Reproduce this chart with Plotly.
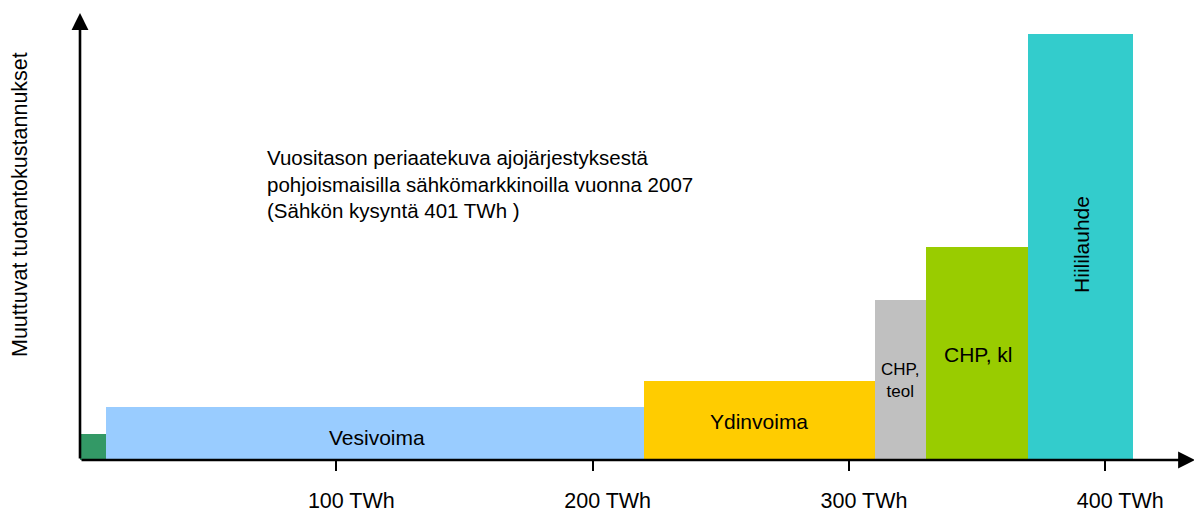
import plotly.graph_objects as go

# Data (TWh along x; relative variable cost in arbitrary units along y)
names = ["", "Vesivoima", "Ydinvoima", "CHP,<br>teol", "CHP, kl", "Hiililauhde"]
starts = [0, 10, 220, 310, 330, 370]
ends = [10, 220, 310, 330, 370, 411]
costs = [26, 53, 79, 160, 213, 426]
colors = ["#339966", "#99CCFF", "#FFCC00", "#C0C0C0", "#99CC00", "#33CCCC"]
tick_vals = [100, 200, 300, 400]
tick_text = ["100 TWh", "200 TWh", "300 TWh", "400 TWh"]
title_lines = ["Vuositason periaatekuva ajojärjestyksestä",
               "pohjoismaisilla sähkömarkkinoilla vuonna 2007",
               "(Sähkön kysyntä 401 TWh )"]
y_label = "Muuttuvat tuotantokustannukset"

X_MAX = 435
Y_MAX = 447
FONT = "Liberation Sans, Arial, sans-serif"

centers = [(s + e) / 2 for s, e in zip(starts, ends)]
widths = [e - s for s, e in zip(starts, ends)]

fig = go.Figure()
fig.add_trace(go.Bar(
    x=centers, y=costs, width=widths, base=0,
    marker=dict(color=colors, line=dict(width=0)),
    hoverinfo="skip", showlegend=False,
))

annotations = []
# bar labels
label_pos = {
    "Vesivoima": (116, 23, 21, 0),
    "Ydinvoima": (265, 39, 21, 0),
    "CHP,<br>teol": (320, 80, 17, 0),
    "CHP, kl": (350.5, 106, 21, 0),
    "Hiililauhde": (390.5, 216, 21, -90),
}
for n in names:
    if n in label_pos:
        x, y, fs, ang = label_pos[n]
        annotations.append(dict(x=x, y=y, xref="x", yref="y", text=n,
                                showarrow=False, textangle=ang,
                                xanchor="center", yanchor="middle",
                                font=dict(size=fs, color="black", family=FONT)))

# title text block
annotations.append(dict(x=72.2, y=276, xref="x", yref="y", xanchor="left",
                        yanchor="middle", align="left",
                        text="<br>".join(title_lines), showarrow=False,
                        font=dict(size=20.5, color="black", family=FONT)))
# y label
annotations.append(dict(x=-0.0538, y=255, xref="paper", yref="y",
                        xanchor="center", yanchor="middle",
                        text=y_label, textangle=-90, showarrow=False,
                        font=dict(size=21.5, color="black", family=FONT)))
# axis arrows
annotations.append(dict(x=X_MAX, y=0, ax=0, ay=0, xref="x", yref="y",
                        axref="x", ayref="y", text="", showarrow=True,
                        arrowhead=2, arrowsize=1.3, arrowwidth=2.6,
                        arrowcolor="black"))
annotations.append(dict(x=0, y=Y_MAX, ax=0, ay=0, xref="x", yref="y",
                        axref="x", ayref="y", text="", showarrow=True,
                        arrowhead=2, arrowsize=1.3, arrowwidth=2.6,
                        arrowcolor="black"))

# the page body adds an 8px offset, so the figure is 8px smaller each way
fig.update_layout(
    width=1194, height=504,
    margin=dict(l=72, r=7, t=5, b=52, autoexpand=False),
    paper_bgcolor="white", plot_bgcolor="white",
    annotations=annotations,
    xaxis=dict(range=[0, X_MAX], showgrid=False, zeroline=False,
               showline=False, tickmode="array", tickvals=tick_vals,
               ticktext=tick_text, ticks="outside", ticklen=10,
               tickwidth=2, tickcolor="black", ticklabelstandoff=11,
               ticklabelshift=15, automargin=False,
               tickfont=dict(size=21.5, color="black", family=FONT)),
    yaxis=dict(range=[0, Y_MAX], showgrid=False, zeroline=False,
               showline=False, showticklabels=False, ticks="",
               automargin=False),
    bargap=0,
)

fig.write_html("out.html")
